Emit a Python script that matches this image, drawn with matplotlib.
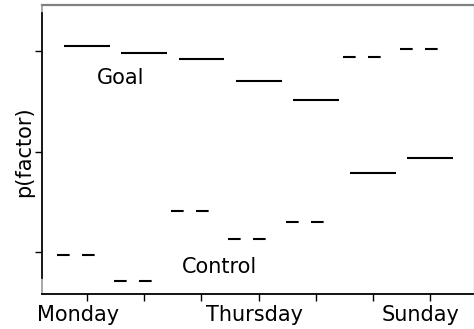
import matplotlib
matplotlib.use("Agg")
import matplotlib.pyplot as plt
from matplotlib.lines import Line2D

days = ["Monday", "Tuesday", "Wednesday", "Thursday", "Friday", "Saturday", "Sunday"]
goal = [0.761, 0.745, 0.728, 0.675, 0.627, 0.446, 0.483]
control = [0.243, 0.178, 0.353, 0.283, 0.326, 0.735, 0.755]
label_days = ["Monday", "Thursday", "Sunday"]
label_pos = [-0.16, 2.93, 5.83]
y_ticks = [0.25, 0.5, 0.75]

plt.rcParams["lines.scale_dashes"] = False

fig = plt.figure(figsize=(4.74, 3.29), dpi=100)
ax = fig.add_axes([42 / 474, 35 / 329, 431 / 474, 289 / 329])

half = 0.4
shift = 0.128
for i, (g, c) in enumerate(zip(goal, control)):
    ax.plot([i - half, i + half], [g, g], color="black", lw=1.5,
            solid_capstyle="butt")
    ax.plot([i - half - shift, i + half - shift], [c, c], color="black",
            lw=1.5, dashes=(9.1, 8.9), dash_capstyle="butt")

ax.text(0.58, 0.682, "Goal", fontsize=15, ha="center", va="center")
ax.text(2.32, 0.215, "Control", fontsize=15, ha="center", va="center")

ax.set_xlim(-0.79, 6.75)
ax.set_ylim(0.147, 0.863)

# ticks on every day, labels only on three of them
ax.set_xticks(range(len(days)))
ax.set_xticklabels([])
ax.set_xticks(label_pos, minor=True)
ax.set_xticklabels(label_days, minor=True, fontsize=15)
ax.tick_params(axis="x", which="minor", length=0, pad=8)
ax.tick_params(axis="x", which="major", length=5, width=1)
ax.set_yticks(y_ticks)
ax.set_yticklabels([])
ax.tick_params(axis="y", length=5, width=1)
fig.text(24 / 474, 1 - 152 / 329, "p(factor)", fontsize=15, rotation=90,
         ha="center", va="center")

ax.spines["top"].set_color("#808080")
ax.spines["top"].set_linewidth(1.6)
ax.spines["right"].set_color("#f0f0f0")
ax.spines["right"].set_linewidth(1.0)
ax.spines["bottom"].set_color("black")
ax.spines["bottom"].set_linewidth(1.3)
ax.spines["left"].set_color("black")
ax.spines["left"].set_linewidth(1.2)
ax.spines["left"].set_bounds(0.187, 0.843)
ax.add_line(Line2D([0, 0], [0, 1], transform=ax.transAxes, color="#9a9a9a",
                   lw=1.2, clip_on=False, zorder=1))

fig.savefig("out.png", dpi=100)
